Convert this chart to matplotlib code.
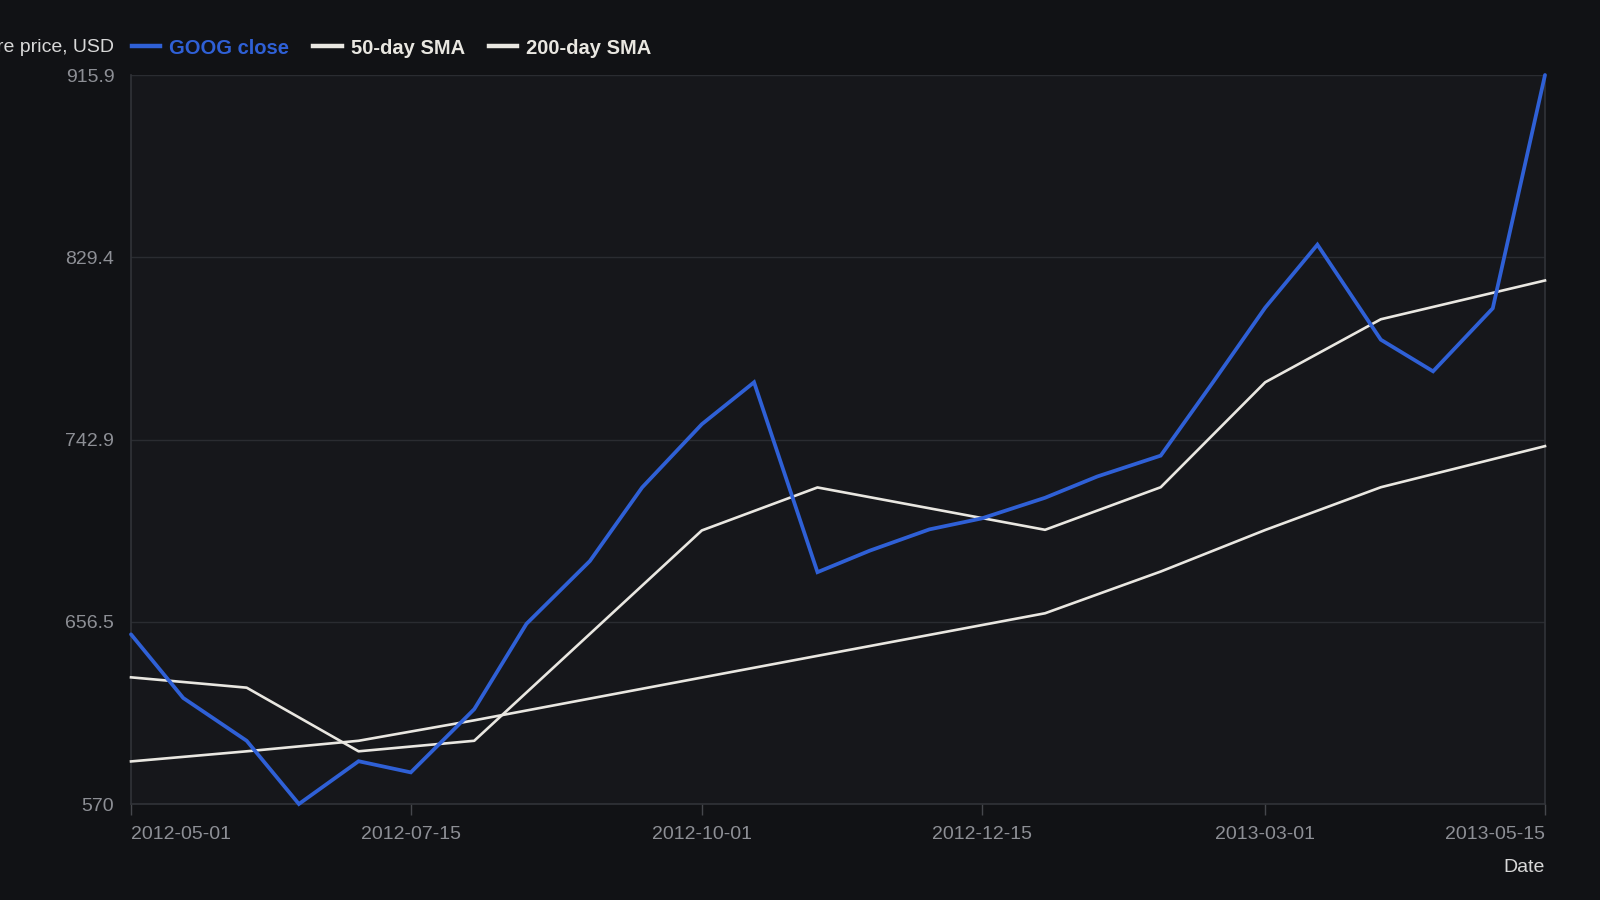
import datetime as dt
import matplotlib
matplotlib.use("Agg")
import matplotlib.pyplot as plt
import matplotlib.dates as mdates
from matplotlib.lines import Line2D

plt.rcParams['font.family'] = ['Liberation Sans', 'DejaVu Sans']

# GOOG close, sampled on the 1st and 15th of each month
close_dates = ["2012-05-01", "2012-05-15", "2012-06-01", "2012-06-15", "2012-07-01",
               "2012-07-15", "2012-08-01", "2012-08-15", "2012-09-01", "2012-09-15",
               "2012-10-01", "2012-10-15", "2012-11-01", "2012-11-15", "2012-12-01",
               "2012-12-15", "2013-01-01", "2013-01-15", "2013-02-01", "2013-02-15",
               "2013-03-01", "2013-03-15", "2013-04-01", "2013-04-15", "2013-05-01",
               "2013-05-15"]
close = [650.5, 620.3, 600.0, 570.0, 590.3, 585.0, 615.0, 655.5, 685.3, 720.2,
         750.2, 770.1, 680.0, 690.2, 700.3, 705.5, 715.3, 725.4, 735.3, 770.1,
         805.5, 835.4, 790.3, 775.3, 805.2, 915.9]

# moving averages
sma_dates = ["2012-05-01", "2012-06-01", "2012-07-01", "2012-08-01", "2012-10-01",
             "2012-11-01", "2013-01-01", "2013-02-01", "2013-03-01", "2013-04-01",
             "2013-05-15"]
sma50 = [630.1, 625.2, 595.0, 600.0, 699.8, 720.2, 700.1, 720.3, 770.1, 800.0, 818.4]
sma200 = [590.2, 595.0, 600.0, 609.7, 630.0, 640.3, 660.5, 680.3, 700.0, 720.3, 739.8]

y_ticks = [570, 656.5, 742.9, 829.4, 915.9]
x_ticks = ["2012-05-01", "2012-07-15", "2012-10-01", "2012-12-15", "2013-03-01", "2013-05-15"]

to_dt = lambda lst: [dt.datetime.strptime(s, "%Y-%m-%d") for s in lst]

BG = '#111215'
PLOT_BG = '#16171b'
GRID = '#2a2c31'
TICK = '#8d8f95'
BLUE = '#2f60d6'
WHITE = '#e9e7e1'

fig = plt.figure(figsize=(16, 9), dpi=100, facecolor=BG)
ax = fig.add_axes([131 / 1600, 1 - 804 / 900, (1545 - 131) / 1600, (804 - 75) / 900])
ax.set_facecolor(PLOT_BG)

ax.plot(to_dt(sma_dates), sma200, color=WHITE, lw=1.9, clip_on=False, zorder=3)
ax.plot(to_dt(sma_dates), sma50, color=WHITE, lw=1.9, clip_on=False, zorder=3)
ax.plot(to_dt(close_dates), close, color=BLUE, lw=2.7, clip_on=False, zorder=4,
        solid_capstyle='round', solid_joinstyle='miter')

xt = to_dt(x_ticks)
ax.set_xlim(xt[0], xt[-1])
ax.set_ylim(y_ticks[0], y_ticks[-1])
ax.set_xticks(xt)
ax.set_xticklabels(x_ticks)
ax.set_yticks(y_ticks)
ax.set_yticklabels([f"{v:g}" for v in y_ticks])

labels = ax.get_xticklabels()
labels[0].set_ha('left')
labels[-1].set_ha('right')

ax.tick_params(axis='x', colors=TICK, labelsize=14, length=8, width=1, pad=8, color='#45474c')
ax.tick_params(axis='y', colors=TICK, labelsize=14, length=0, pad=12)
ax.grid(axis='y', color=GRID, lw=1)
ax.set_axisbelow(True)
for s in ax.spines.values():
    s.set_color('#313338')
    s.set_linewidth(1.2)
ax.spines['top'].set_visible(False)

fig.text(1545 / 1600, 1 - 868 / 900, "Date", color='#d8d8d8', fontsize=14,
         ha='right', va='center')

# y title sits in the legend row, partly off the left edge
fig.text(114 / 1600, 1 - 48 / 900, "Share price, USD", color='#d8d8d8', fontsize=14,
         ha='right', va='center')

handles = [Line2D([], [], color=BLUE, lw=3.2),
           Line2D([], [], color=WHITE, lw=3.2),
           Line2D([], [], color=WHITE, lw=3.2)]
leg = fig.legend(handles, ["GOOG close", "50-day SMA", "200-day SMA"],
                 loc='center left', bbox_to_anchor=(124 / 1600, 1 - 48 / 900),
                 ncol=3, frameon=False, fontsize=14.5, handlelength=1.4,
                 handletextpad=0.45, columnspacing=1.2, borderaxespad=0)
for t, c in zip(leg.get_texts(), [BLUE, WHITE, WHITE]):
    t.set_color(c)
    t.set_fontweight('bold')

fig.savefig("out.png", facecolor=BG)
